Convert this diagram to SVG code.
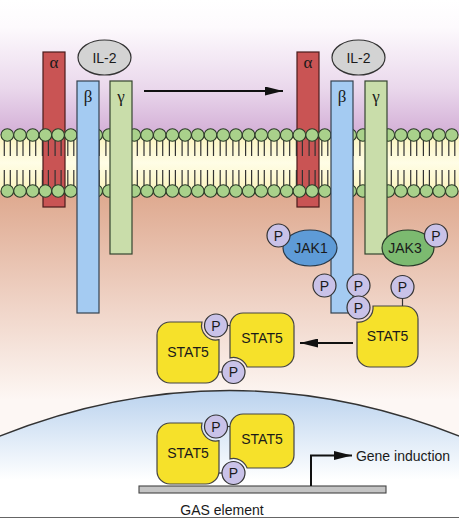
<svg xmlns="http://www.w3.org/2000/svg" xmlns:xlink="http://www.w3.org/1999/xlink" width="459" height="518" viewBox="0 0 459 518">
<defs>
<linearGradient id="gTop" x1="0" y1="0" x2="0" y2="135" gradientUnits="userSpaceOnUse">
<stop offset="0" stop-color="#ffffff"/>
<stop offset="0.2" stop-color="#fdfafd"/>
<stop offset="0.65" stop-color="#ead8ec"/>
<stop offset="1" stop-color="#d3aed6"/>
</linearGradient>
<linearGradient id="gMem" x1="0" y1="135" x2="0" y2="191" gradientUnits="userSpaceOnUse">
<stop offset="0" stop-color="#fbf4bf"/>
<stop offset="0.5" stop-color="#fffde6"/>
<stop offset="1" stop-color="#fbf4bf"/>
</linearGradient>
<linearGradient id="gBot" x1="0" y1="191" x2="0" y2="400" gradientUnits="userSpaceOnUse">
<stop offset="0" stop-color="#dea88e"/>
<stop offset="0.5" stop-color="#eed0c2"/>
<stop offset="1" stop-color="#fdf7f4"/>
</linearGradient>
<linearGradient id="gNuc" x1="0" y1="390" x2="0" y2="480" gradientUnits="userSpaceOnUse">
<stop offset="0" stop-color="#bad2ee"/>
<stop offset="1" stop-color="#ffffff"/>
</linearGradient>
<marker id="ah" viewBox="0 0 18 9" refX="18" refY="4.5" markerWidth="18" markerHeight="9" markerUnits="userSpaceOnUse" orient="auto">
<path d="M0,0 L18,4.5 L0,9 Z" fill="#111"/>
</marker>
<style>
.lbl{font-family:"Liberation Sans",Arial,sans-serif;font-size:14px;fill:#1a1a1a;text-anchor:middle}
.grk{font-family:"Liberation Serif","Times New Roman",serif;font-size:17px;fill:#1a1a1a;text-anchor:middle}
.a{fill:#c95454;stroke:#4a1c1c;stroke-width:1.2}
.b{fill:#a4cbf2;stroke:#35424f;stroke-width:1.2}
.g{fill:#c9ddaa;stroke:#35452f;stroke-width:1.2}
.il{fill:#d3d3d3;stroke:#333;stroke-width:1.2}
.p{fill:#c9c2e8;stroke:#333;stroke-width:1.2}
.st{fill:#f6e12a;stroke:#444;stroke-width:1.2}
.head{fill:#a9d18b;stroke:#2b3a28;stroke-width:1.1}
.tail{stroke:#333;stroke-width:1.2}
.con{stroke:#111;stroke-width:2;fill:none}
.stem{stroke:#333;stroke-width:1.2}
</style>
<g id="tailsRow">
<path class="tail" d="M4.3,0v16M10.3,0v16M17,0v16M23,0v16M29.7,0v16M35.7,0v16M42.4,0v16M48.4,0v16M55.1,0v16M61.1,0v16M67.8,0v16M73.8,0v16M80.5,0v16M86.5,0v16M93.2,0v16M99.2,0v16M105.9,0v16M111.9,0v16M118.6,0v16M124.6,0v16M131.3,0v16M137.3,0v16M144,0v16M150,0v16M156.7,0v16M162.7,0v16M169.4,0v16M175.4,0v16M182.1,0v16M188.1,0v16M194.8,0v16M200.8,0v16M207.5,0v16M213.5,0v16M220.2,0v16M226.2,0v16M232.9,0v16M238.9,0v16M245.6,0v16M251.6,0v16M258.3,0v16M264.3,0v16M271,0v16M277,0v16M283.7,0v16M289.7,0v16M296.4,0v16M302.4,0v16M309.1,0v16M315.1,0v16M321.8,0v16M327.8,0v16M334.5,0v16M340.5,0v16M347.2,0v16M353.2,0v16M359.9,0v16M365.9,0v16M372.6,0v16M378.6,0v16M385.3,0v16M391.3,0v16M398,0v16M404,0v16M410.7,0v16M416.7,0v16M423.4,0v16M429.4,0v16M436.1,0v16M442.1,0v16M448.8,0v16M454.8,0v16"/>
</g>
<g id="headRow">
<circle class="head" cx="7.3" cy="0" r="6.3"/><circle class="head" cx="20" cy="0" r="6.3"/><circle class="head" cx="32.7" cy="0" r="6.3"/><circle class="head" cx="45.4" cy="0" r="6.3"/><circle class="head" cx="58.1" cy="0" r="6.3"/><circle class="head" cx="70.8" cy="0" r="6.3"/><circle class="head" cx="83.5" cy="0" r="6.3"/><circle class="head" cx="96.2" cy="0" r="6.3"/><circle class="head" cx="108.9" cy="0" r="6.3"/><circle class="head" cx="121.6" cy="0" r="6.3"/><circle class="head" cx="134.3" cy="0" r="6.3"/><circle class="head" cx="147" cy="0" r="6.3"/><circle class="head" cx="159.7" cy="0" r="6.3"/><circle class="head" cx="172.4" cy="0" r="6.3"/><circle class="head" cx="185.1" cy="0" r="6.3"/><circle class="head" cx="197.8" cy="0" r="6.3"/><circle class="head" cx="210.5" cy="0" r="6.3"/><circle class="head" cx="223.2" cy="0" r="6.3"/><circle class="head" cx="235.9" cy="0" r="6.3"/><circle class="head" cx="248.6" cy="0" r="6.3"/><circle class="head" cx="261.3" cy="0" r="6.3"/><circle class="head" cx="274" cy="0" r="6.3"/><circle class="head" cx="286.7" cy="0" r="6.3"/><circle class="head" cx="299.4" cy="0" r="6.3"/><circle class="head" cx="312.1" cy="0" r="6.3"/><circle class="head" cx="324.8" cy="0" r="6.3"/><circle class="head" cx="337.5" cy="0" r="6.3"/><circle class="head" cx="350.2" cy="0" r="6.3"/><circle class="head" cx="362.9" cy="0" r="6.3"/><circle class="head" cx="375.6" cy="0" r="6.3"/><circle class="head" cx="388.3" cy="0" r="6.3"/><circle class="head" cx="401" cy="0" r="6.3"/><circle class="head" cx="413.7" cy="0" r="6.3"/><circle class="head" cx="426.4" cy="0" r="6.3"/><circle class="head" cx="439.1" cy="0" r="6.3"/><circle class="head" cx="451.8" cy="0" r="6.3"/>
</g>
</defs>

<g id="background">
<rect x="0" y="0" width="459" height="135" fill="url(#gTop)"/>
<rect x="0" y="135" width="459" height="56" fill="url(#gMem)"/>
<rect x="0" y="191" width="459" height="327" fill="url(#gBot)"/>
<path d="M-5,438 Q229.5,343 464,438 L464,518 L-5,518 Z" fill="url(#gNuc)" stroke="#333" stroke-width="1.3"/>
</g>

<g id="alpha-left"><rect class="a" x="43" y="52" width="22" height="155"/><text class="grk" x="54" y="68">α</text></g>
<g id="alpha-right"><rect class="a" x="297" y="52" width="22" height="155"/><text class="grk" x="308" y="68">α</text></g>

<g id="membrane">
<use href="#tailsRow" y="140"/>
<use href="#tailsRow" y="170"/>
<use href="#headRow" y="135"/>
<use href="#headRow" y="191"/>
</g>

<g id="beta-left"><rect class="b" x="77" y="81" width="22" height="232"/><text class="grk" x="88" y="102">β</text></g>
<g id="gamma-left"><rect class="g" x="110" y="81" width="22" height="173"/><text class="grk" x="121" y="102">γ</text></g>
<g id="il2-left"><ellipse class="il" cx="104.5" cy="57.5" rx="26.5" ry="17.5"/><text class="lbl" x="104.5" y="62.5">IL-2</text></g>

<g id="beta-right"><rect class="b" x="331" y="81" width="22" height="232"/><text class="grk" x="342" y="102">β</text></g>
<g id="gamma-right"><rect class="g" x="365" y="81" width="22" height="173"/><text class="grk" x="376" y="102">γ</text></g>
<g id="il2-right"><ellipse class="il" cx="358.5" cy="57.5" rx="26.5" ry="17.5"/><text class="lbl" x="358.5" y="62.5">IL-2</text></g>

<g id="jak1"><ellipse cx="310" cy="248" rx="27" ry="18" fill="#5e9bd7" stroke="#2a3a4a" stroke-width="1.2"/><text class="lbl" x="311" y="253">JAK1</text></g>
<g id="jak1-p"><circle class="p" cx="278.5" cy="235.5" r="11.5"/><text class="lbl" x="278.5" y="240.5">P</text></g>
<g id="jak3"><ellipse cx="408" cy="248" rx="26" ry="18" fill="#7cba70" stroke="#2a3a2a" stroke-width="1.2"/><text class="lbl" x="405" y="253">JAK3</text></g>
<g id="jak3-p"><circle class="p" cx="436" cy="235.5" r="11.5"/><text class="lbl" x="436" y="240.5">P</text></g>

<g id="beta-p1"><circle class="p" cx="324.5" cy="285.5" r="11.5"/><text class="lbl" x="324.5" y="290.5">P</text></g>
<g id="beta-p2"><circle class="p" cx="358.5" cy="285.5" r="11.5"/><text class="lbl" x="358.5" y="290.5">P</text></g>

<g id="stat5-single">
<path class="st" d="M373,306 H405 A13,13 0 0 1 418,319 V354 A13,13 0 0 1 405,367 H370 A13,13 0 0 1 357,354 V322 A14.5,14.5 0 0 0 373,306 Z"/>
<text class="lbl" x="387.5" y="341">STAT5</text>
<circle class="p" cx="358.5" cy="307.5" r="11.5"/><text class="lbl" x="358.5" y="312.5">P</text>
<line class="stem" x1="402.5" y1="298.5" x2="402.5" y2="306"/>
<circle class="p" cx="402.5" cy="287" r="11.5"/><text class="lbl" x="402.5" y="292">P</text>
</g>

<g id="stat5-dimer-cyto">
<path class="st" d="M170,322 H202 A14.5,14.5 0 0 0 219,339.7 V370 A13,13 0 0 1 206,383 H170 A13,13 0 0 1 157,370 V335 A13,13 0 0 1 170,322 Z"/>
<text class="lbl" x="188" y="357">STAT5</text>
<path class="st" d="M243,313 H281 A13,13 0 0 1 294,326 V354 A13,13 0 0 1 281,367 H247.1 A14.5,14.5 0 0 0 230,357.9 V326 A13,13 0 0 1 243,313 Z"/>
<text class="lbl" x="262" y="343">STAT5</text>
<line class="stem" x1="227.5" y1="325.5" x2="230" y2="325.5"/>
<line class="stem" x1="219" y1="372" x2="222" y2="372"/>
<circle class="p" cx="216" cy="325.5" r="11.5"/><text class="lbl" x="216" y="330.5">P</text>
<circle class="p" cx="233.5" cy="372" r="11.5"/><text class="lbl" x="233.5" y="377">P</text>
</g>

<g id="stat5-dimer-nucleus" transform="translate(0,101)">
<path class="st" d="M170,322 H202 A14.5,14.5 0 0 0 219,339.7 V370 A13,13 0 0 1 206,383 H170 A13,13 0 0 1 157,370 V335 A13,13 0 0 1 170,322 Z"/>
<text class="lbl" x="188" y="357">STAT5</text>
<path class="st" d="M243,313 H281 A13,13 0 0 1 294,326 V354 A13,13 0 0 1 281,367 H247.1 A14.5,14.5 0 0 0 230,357.9 V326 A13,13 0 0 1 243,313 Z"/>
<text class="lbl" x="262" y="343">STAT5</text>
<line class="stem" x1="227.5" y1="325.5" x2="230" y2="325.5"/>
<line class="stem" x1="219" y1="372" x2="222" y2="372"/>
<circle class="p" cx="216" cy="325.5" r="11.5"/><text class="lbl" x="216" y="330.5">P</text>
<circle class="p" cx="233.5" cy="372" r="11.5"/><text class="lbl" x="233.5" y="377">P</text>
</g>

<g id="gas-element">
<rect x="139" y="486" width="247" height="7" fill="#c4c4c4" stroke="#444" stroke-width="1.1"/>
<text class="lbl" x="222" y="515">GAS element</text>
</g>
<g id="gene-induction"><text class="lbl" x="403" y="461">Gene induction</text></g>

<g id="connectors">
<line class="con" x1="144" y1="91" x2="283" y2="91" marker-end="url(#ah)"/>
<line class="con" x1="353" y1="343" x2="300" y2="343" marker-end="url(#ah)"/>
<path class="con" d="M311,486 V455.5 H352" marker-end="url(#ah)"/>
</g>
</svg>
